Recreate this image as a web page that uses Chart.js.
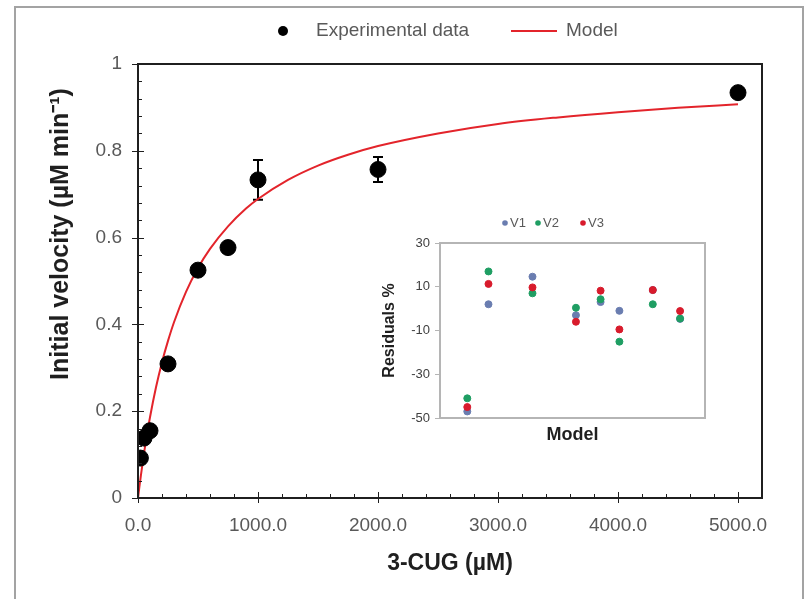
<!DOCTYPE html>
<html><head><meta charset="utf-8">
<script src="https://cdn.jsdelivr.net/npm/chart.js@4.4.1/dist/chart.umd.min.js"></script>
<style>
html,body{margin:0;padding:0;background:#fff;}
#wrap{position:relative;width:804px;height:599px;overflow:hidden;background:#fff;}
#main{position:absolute;left:0;top:0;}
#inset{position:absolute;left:370px;top:200px;}
</style></head><body>
<div id="wrap"><canvas id="main" width="804" height="599"></canvas><canvas id="inset" width="345" height="250"></canvas></div>
<script>
// ---- main chart data ----
const concentration = [20, 50, 100, 250, 500, 750, 1000, 2000, 5000];
const velocity      = [0.092, 0.138, 0.155, 0.309, 0.525, 0.577, 0.733, 0.757, 0.934];
const velocityError = [0, 0, 0, 0, 0, 0, 0.046, 0.029, 0];
const modelConcentration = [0, 10, 25, 50, 75, 100, 150, 200, 250, 300, 400, 500, 600, 750, 900, 1000, 1250, 1500, 1750, 2000, 2500, 3000, 3500, 4000, 4500, 5000];
const modelVelocity      = [0, 0.022, 0.054, 0.103, 0.146, 0.186, 0.255, 0.313, 0.362, 0.405, 0.475, 0.530, 0.574, 0.626, 0.667, 0.689, 0.733, 0.766, 0.791, 0.811, 0.840, 0.862, 0.877, 0.889, 0.899, 0.907];
const xTickValues = [0, 1000, 2000, 3000, 4000, 5000];
const xTickLabels = ['0.0', '1000.0', '2000.0', '3000.0', '4000.0', '5000.0'];
const yTickValues = [0, 0.2, 0.4, 0.6, 0.8, 1];
const yTickLabels = ['0', '0.2', '0.4', '0.6', '0.8', '1'];

// ---- inset (residuals) data ----
const insetModel  = [0.103, 0.183, 0.349, 0.513, 0.606, 0.677, 0.803, 0.906];
const residualV1  = [-47, 2, 14.6, -3, 3, -1, 8.5, -4.7];
const residualV2  = [-41, 17, 7, 0.4, 4.3, -15.1, 2, -4.5];
const residualV3  = [-45, 11.3, 9.7, -6, 8.2, -9.5, 8.5, -1.1];
const insetYTickValues = [-50, -30, -10, 10, 30];
const insetYTickLabels = ['-50', '-30', '-10', '10', '30'];

const FONT = '"Liberation Sans", Arial, Helvetica, sans-serif';
const TICK_COLOR = '#595959';
const MINOR_PER_MAJOR = 5;

const mainPlugin = {
  id: 'mainDecor',
  beforeDraw(chart) {
    const ctx = chart.ctx;
    ctx.save();
    ctx.fillStyle = '#fff';
    ctx.fillRect(0, 0, chart.width, chart.height);
    ctx.strokeStyle = '#a3a3a3';
    ctx.lineWidth = 2;
    ctx.strokeRect(15, 7, 788, 600);
    ctx.restore();
  },
  beforeDatasetsDraw(chart) {
    const {ctx, scales: {x, y}} = chart;
    ctx.save();
    ctx.strokeStyle = '#000';
    ctx.lineWidth = 2;
    concentration.forEach((c, i) => {
      const e = velocityError[i];
      if (!e) return;
      const px = x.getPixelForValue(c);
      const top = y.getPixelForValue(velocity[i] + e);
      const bot = y.getPixelForValue(velocity[i] - e);
      ctx.beginPath();
      ctx.moveTo(px, top); ctx.lineTo(px, bot);
      ctx.moveTo(px - 5, top); ctx.lineTo(px + 5, top);
      ctx.moveTo(px - 5, bot); ctx.lineTo(px + 5, bot);
      ctx.stroke();
    });
    ctx.restore();
  },
  afterDraw(chart) {
    const {ctx, chartArea: a, scales: {x, y}} = chart;
    ctx.save();
    // plot border
    ctx.strokeStyle = '#1f1f1f';
    ctx.lineWidth = 2;
    ctx.strokeRect(a.left, a.top, a.right - a.left, a.bottom - a.top);
    // ticks
    ctx.lineWidth = 1;
    ctx.strokeStyle = '#1f1f1f';
    ctx.beginPath();
    const xt = x.ticks.map(t => t.value);
    const xStep = xt[1] - xt[0];
    for (let k = 0; k < xt.length; k++) {
      const px = Math.round(x.getPixelForValue(xt[k])) + 0.5;
      ctx.moveTo(px, a.bottom - 6); ctx.lineTo(px, a.bottom + 5);
      for (let m = 1; m < MINOR_PER_MAJOR; m++) {
        const v = xt[k] + m * xStep / MINOR_PER_MAJOR;
        if (v >= x.max) break;
        const mp = Math.round(x.getPixelForValue(v)) + 0.5;
        ctx.moveTo(mp, a.bottom - 4); ctx.lineTo(mp, a.bottom);
      }
    }
    const yt = y.ticks.map(t => t.value);
    const yStep = yt[1] - yt[0];
    for (let k = 0; k < yt.length; k++) {
      const py = Math.round(y.getPixelForValue(yt[k])) + 0.5;
      ctx.moveTo(a.left - 6, py); ctx.lineTo(a.left + 6, py);
      if (k < yt.length - 1) {
        for (let m = 1; m < MINOR_PER_MAJOR; m++) {
          const mp = Math.round(y.getPixelForValue(yt[k] + m * yStep / MINOR_PER_MAJOR)) + 0.5;
          ctx.moveTo(a.left, mp); ctx.lineTo(a.left + 4, mp);
        }
      }
    }
    ctx.stroke();
    // y title
    ctx.fillStyle = '#1f1f1f';
    ctx.font = 'bold 25px ' + FONT;
    ctx.textAlign = 'center';
    ctx.textBaseline = 'middle';
    ctx.translate(61, 234);
    ctx.rotate(-Math.PI / 2);
    ctx.fillText('Initial velocity (µM min⁻¹)', 0, 0);
    ctx.setTransform(1, 0, 0, 1, 0, 0);
    // legend
    const ds = chart.data.datasets;
    ctx.font = '19px ' + FONT;
    ctx.textAlign = 'left';
    ctx.fillStyle = '#000';
    ctx.beginPath(); ctx.arc(283, 31, 5, 0, Math.PI * 2); ctx.fill();
    ctx.fillStyle = TICK_COLOR;
    ctx.fillText(ds[0].label, 316, 31);
    ctx.strokeStyle = ds[1].borderColor;
    ctx.lineWidth = 2;
    ctx.beginPath(); ctx.moveTo(511, 31); ctx.lineTo(557, 31); ctx.stroke();
    ctx.fillText(ds[1].label, 566, 31);
    ctx.restore();
  }
};

new Chart(document.getElementById('main'), {
  type: 'scatter',
  data: {
    datasets: [
      { label: 'Experimental data',
        data: concentration.map((c, i) => ({x: c, y: velocity[i]})),
        backgroundColor: '#000', borderColor: '#000', pointRadius: 8, pointHoverRadius: 8, order: 0 },
      { label: 'Model',
        data: modelConcentration.map((c, i) => ({x: c, y: modelVelocity[i]})),
        showLine: true, borderColor: '#e3242b', borderWidth: 2, pointRadius: 0, pointHoverRadius: 0,
        cubicInterpolationMode: 'monotone', fill: false, order: 1 }
    ]
  },
  options: {
    responsive: false, animation: false, devicePixelRatio: 1,
    layout: { padding: { left: 0, right: 42, top: 64, bottom: 0 } },
    plugins: { legend: { display: false }, tooltip: { enabled: false } },
    scales: {
      x: {
        type: 'linear', min: 0, max: 5200, bounds: 'data',
        afterBuildTicks(s) { s.ticks = xTickValues.map(v => ({value: v})); },
        afterFit(s) { s.height = 101; },
        grid: { display: false, drawTicks: false }, border: { display: false },
        ticks: { padding: 16, maxRotation: 0, autoSkip: false,
                 color: TICK_COLOR, font: { family: FONT, size: 19 },
                 callback: (v, i) => xTickLabels[i] },
        title: { display: true, text: '3-CUG (µM)', color: '#1f1f1f',
                 font: { family: FONT, size: 23, weight: 'bold' }, padding: { top: 0, bottom: 22 } }
      },
      y: {
        type: 'linear', min: 0, max: 1, bounds: 'data',
        afterBuildTicks(s) { s.ticks = yTickValues.map(v => ({value: v})); },
        afterFit(s) { s.width = 138; },
        grid: { display: false, drawTicks: false }, border: { display: false },
        ticks: { padding: 16, autoSkip: false,
                 color: TICK_COLOR, font: { family: FONT, size: 19 },
                 callback: (v, i) => yTickLabels[i] }
      }
    }
  },
  plugins: [mainPlugin]
});

const insetPlugin = {
  id: 'insetDecor',
  afterDraw(chart) {
    const {ctx, chartArea: a} = chart;
    ctx.save();
    ctx.strokeStyle = '#b5b5b5';
    ctx.lineWidth = 2;
    ctx.strokeRect(a.left, a.top, a.right - a.left, a.bottom - a.top);
    // legend
    const pos = [[135, 140], [168, 173], [213, 218]];
    ctx.font = '13px ' + FONT;
    ctx.textBaseline = 'middle';
    ctx.textAlign = 'left';
    chart.data.datasets.forEach((d, i) => {
      ctx.fillStyle = d.backgroundColor;
      ctx.beginPath(); ctx.arc(pos[i][0], 23, 2.8, 0, Math.PI * 2); ctx.fill();
      ctx.fillStyle = TICK_COLOR;
      ctx.fillText(d.label, pos[i][1], 23);
    });
    ctx.restore();
  }
};

new Chart(document.getElementById('inset'), {
  type: 'scatter',
  data: {
    datasets: [
      { label: 'V1', data: insetModel.map((m, i) => ({x: m, y: residualV1[i]})),
        backgroundColor: '#6a7db0', borderColor: '#6a7db0', pointRadius: 3.5, pointHoverRadius: 3.5, order: 2 },
      { label: 'V2', data: insetModel.map((m, i) => ({x: m, y: residualV2[i]})),
        backgroundColor: '#1f9e63', borderColor: '#1f9e63', pointRadius: 3.5, pointHoverRadius: 3.5, order: 1 },
      { label: 'V3', data: insetModel.map((m, i) => ({x: m, y: residualV3[i]})),
        backgroundColor: '#d81b2c', borderColor: '#d81b2c', pointRadius: 3.5, pointHoverRadius: 3.5, order: 0 }
    ]
  },
  options: {
    responsive: false, animation: false, devicePixelRatio: 1,
    layout: { padding: { left: 0, right: 10, top: 43, bottom: 0 } },
    plugins: { legend: { display: false }, tooltip: { enabled: false } },
    scales: {
      x: {
        type: 'linear', min: 0, max: 1, bounds: 'data',
        afterFit(s) { s.height = 32; },
        ticks: { display: false },
        grid: { display: false, drawTicks: false }, border: { display: false },
        title: { display: true, text: 'Model', color: '#1f1f1f',
                 font: { family: FONT, size: 18, weight: 'bold' }, padding: { top: 0, bottom: 4 } }
      },
      y: {
        type: 'linear', min: -50, max: 30, bounds: 'data',
        afterBuildTicks(s) { s.ticks = insetYTickValues.map(v => ({value: v})); },
        afterFit(s) { s.width = 70; },
        ticks: { padding: 5, autoSkip: false, color: '#404040',
                 font: { family: FONT, size: 13 }, callback: (v, i) => insetYTickLabels[i] },
        grid: { drawOnChartArea: false, drawTicks: true, tickLength: 5, color: '#b5b5b5', lineWidth: 1 },
        border: { display: false },
        title: { display: true, text: 'Residuals %', color: '#1f1f1f',
                 font: { family: FONT, size: 16, weight: 'bold' }, padding: { top: 10, bottom: 0 } }
      }
    }
  },
  plugins: [insetPlugin]
});
</script>
</body></html>
